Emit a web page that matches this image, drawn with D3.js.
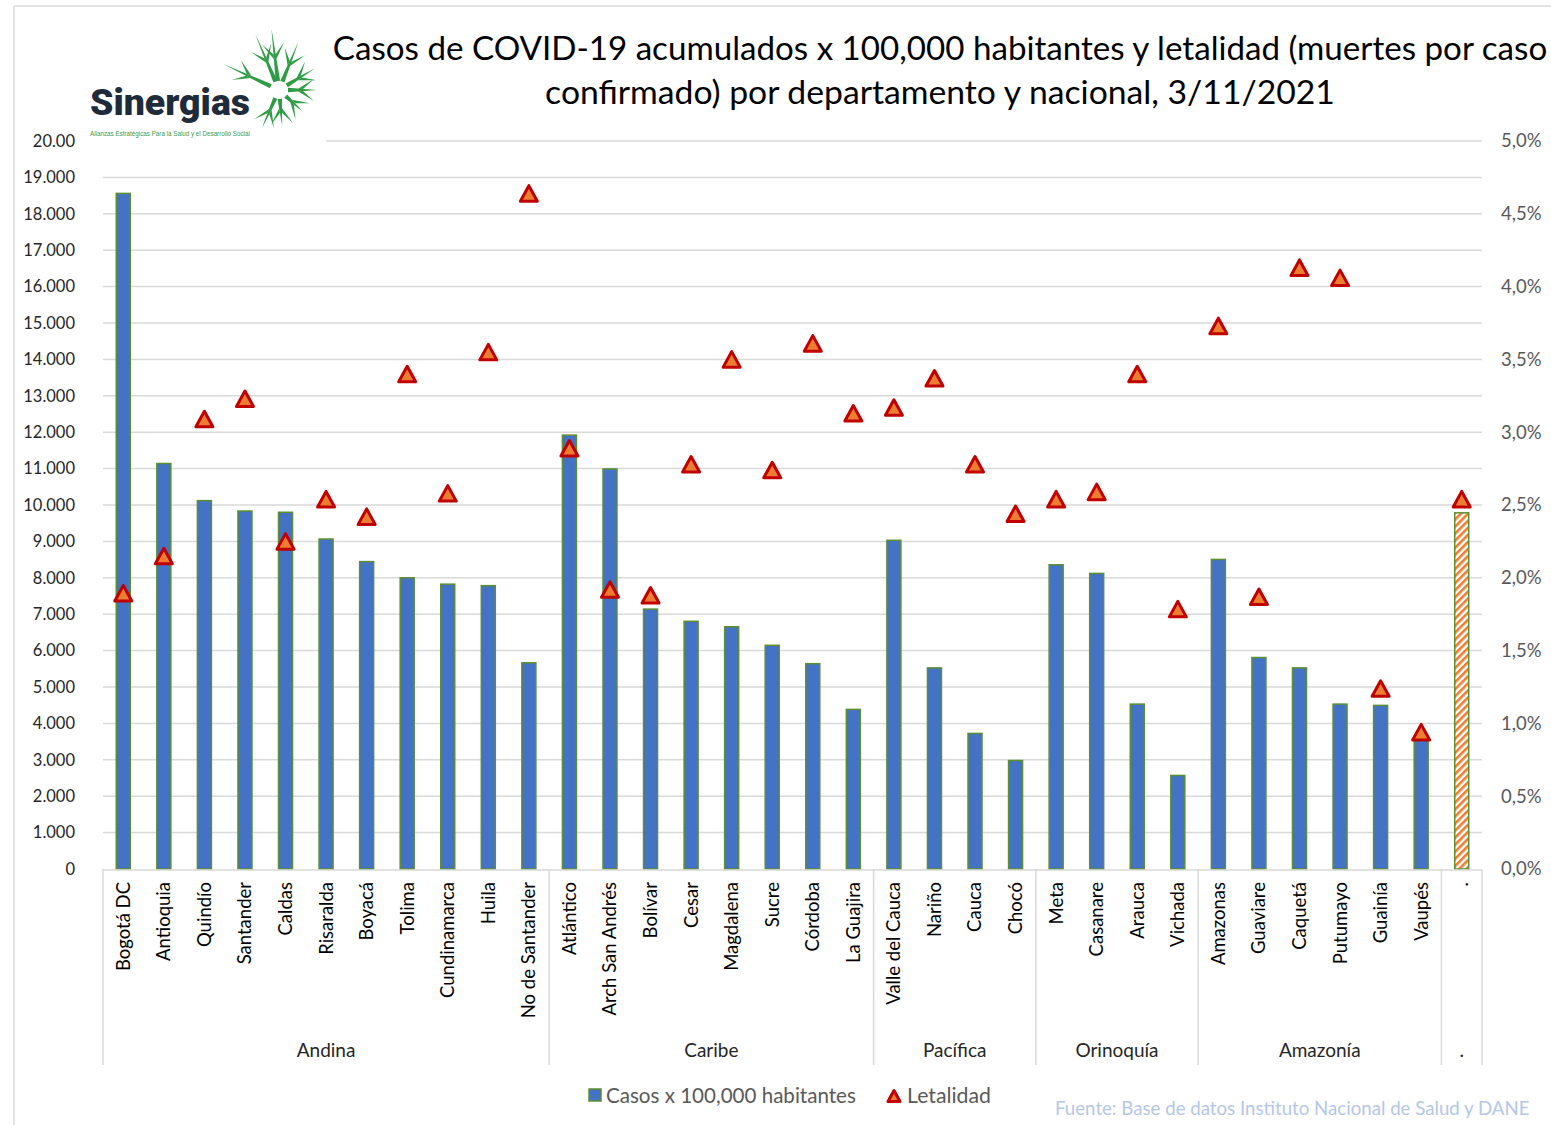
<!DOCTYPE html>
<html>
<head>
<meta charset="utf-8">
<script src="https://cdn.jsdelivr.net/npm/d3@7"></script>
<style>
  html, body { margin: 0; padding: 0; background: #fff; }
  svg { display: block; }
</style>
</head>
<body>
<svg id="chart" width="1551" height="1125"></svg>
<script>
// ---------------- DATA ----------------
const categories = [
  "Bogotá DC","Antioquia","Quindío","Santander","Caldas","Risaralda","Boyacá","Tolima","Cundinamarca","Huila","No de Santander",
  "Atlántico","Arch San Andrés","Bolívar","Cesar","Magdalena","Sucre","Córdoba","La Guajira",
  "Valle del Cauca","Nariño","Cauca","Chocó",
  "Meta","Casanare","Arauca","Vichada",
  "Amazonas","Guaviare","Caquetá","Putumayo","Guainía","Vaupés",
  "."
];
const regionNames = ["Andina","Caribe","Pacífica","Orinoquía","Amazonía","."];
const regionSizes = [11, 8, 4, 4, 6, 1];
const casos = [
  18560, 11140, 10120, 9835, 9800, 9065, 8445, 8000, 7825, 7785, 5665,
  11920, 10990, 7140, 6805, 6655, 6145, 5640, 4385,
  9030, 5525, 3725, 2980,
  8357, 8120, 4530, 2570,
  8505, 5810, 5525, 4530, 4495, 3650,
  9785
];
const letalidad = [
  0.01894, 0.0215, 0.0309, 0.0323, 0.0225, 0.0254, 0.0242, 0.0340, 0.0258, 0.0355, 0.0464,
  0.0289, 0.0192, 0.0188, 0.0278, 0.0350, 0.0274, 0.0361, 0.0313,
  0.0317, 0.0337, 0.0278, 0.0244,
  0.0254, 0.0259, 0.0340, 0.01785,
  0.0373, 0.0187, 0.0413, 0.0406, 0.0124, 0.0094,
  0.0254
];
const leftTickValues = [0,1000,2000,3000,4000,5000,6000,7000,8000,9000,10000,11000,12000,13000,14000,15000,16000,17000,18000,19000,20000];
const leftTickLabels = ["0","1.000","2.000","3.000","4.000","5.000","6.000","7.000","8.000","9.000","10.000","11.000","12.000","13.000","14.000","15.000","16.000","17.000","18.000","19.000","20.00"];
const rightTickValues = [0,0.005,0.01,0.015,0.02,0.025,0.03,0.035,0.04,0.045,0.05];
const rightTickLabels = ["0,0%","0,5%","1,0%","1,5%","2,0%","2,5%","3,0%","3,5%","4,0%","4,5%","5,0%"];
const titleLines = [
  "Casos de COVID-19 acumulados x 100,000 habitantes y letalidad (muertes por caso",
  "confirmado) por departamento y nacional, 3/11/2021"
];
const legendLabels = ["Casos x 100,000 habitantes", "Letalidad"];
const sourceText = "Fuente: Base de datos Instituto Nacional de Salud y DANE";

// ---------------- LAYOUT ----------------
const FONT = "Lato, 'Open Sans', sans-serif";
const plot = { left: 103, right: 1482, top: 141, bottom: 869 };
const svg = d3.select("#chart");

const x = d3.scaleBand().domain(categories).range([plot.left, plot.right]).paddingInner(0).paddingOuter(0);
const yL = d3.scaleLinear().domain([0, 20000]).range([plot.bottom, plot.top]);
const yR = d3.scaleLinear().domain([0, 0.05]).range([plot.bottom, plot.top]);
const barW = 14;

function fit(sel, target) {
  sel.each(function() {
    const w = this.getComputedTextLength();
    const fs = parseFloat(d3.select(this).attr("font-size"));
    if (w > 0) d3.select(this).attr("font-size", fs * target / w);
  });
}
// triangle marker centred on its bounding box (like spreadsheet markers)
function triPath(w, h) {
  return `M0,${-h / 2}L${w / 2},${h / 2}L${-w / 2},${h / 2}Z`;
}

// defs: hatch pattern
const defs = svg.append("defs");
const pat = defs.append("pattern").attr("id", "hatch").attr("patternUnits", "userSpaceOnUse")
  .attr("width", 5).attr("height", 5).attr("patternTransform", "rotate(45)");
pat.append("rect").attr("width", 5).attr("height", 5).attr("fill", "#ffffff");
pat.append("rect").attr("width", 2.6).attr("height", 5).attr("fill", "#ED7D31");

// outer frame lines
svg.append("line").attr("x1", 14).attr("x2", 1551).attr("y1", 6).attr("y2", 6).attr("stroke", "#d9d9d9").attr("stroke-width", 1.5);
svg.append("line").attr("x1", 14).attr("x2", 14).attr("y1", 6).attr("y2", 1125).attr("stroke", "#d9d9d9").attr("stroke-width", 1.5);

// gridlines
svg.append("g").selectAll("line").data(leftTickValues.filter(v => v > 0)).join("line")
  .attr("x1", d => d === 20000 ? 326 : plot.left).attr("x2", plot.right)
  .attr("y1", d => yL(d)).attr("y2", d => yL(d))
  .attr("stroke", "#d9d9d9").attr("stroke-width", 1.5);

// left axis labels
svg.append("g").selectAll("text").data(leftTickValues).join("text")
  .attr("x", 75).attr("y", d => yL(d)).attr("dy", "0.35em")
  .attr("text-anchor", "end").attr("font-family", FONT).attr("font-size", 16.5)
  .attr("fill", "#262626").text((d, i) => leftTickLabels[i]);

// right axis labels
svg.append("g").selectAll("text").data(rightTickValues).join("text")
  .attr("x", 1501).attr("y", d => yR(d)).attr("dy", "0.35em")
  .attr("text-anchor", "start").attr("font-family", FONT).attr("font-size", 18.5)
  .attr("fill", "#595959").text((d, i) => rightTickLabels[i]);

// bars
const barData = categories.map((c, i) => ({ c, v: casos[i], l: letalidad[i], nat: c === "." }));
svg.append("g").selectAll("rect").data(barData).join("rect")
  .attr("x", d => x(d.c) + x.bandwidth() / 2 - barW / 2)
  .attr("width", barW)
  .attr("y", d => yL(d.v))
  .attr("height", d => yL(0) - yL(d.v))
  .attr("fill", d => d.nat ? "url(#hatch)" : "#4472C4")
  .attr("stroke", "#5B8F32").attr("stroke-width", 1.5);

// category axis line + separators
const ax = svg.append("g");
ax.append("line").attr("x1", plot.left).attr("x2", plot.right).attr("y1", plot.bottom + 1).attr("y2", plot.bottom + 1)
  .attr("stroke", "#d9d9d9").attr("stroke-width", 1.5);
let acc = 0;
const bounds = [0];
regionSizes.forEach(s => { acc += s; bounds.push(acc); });
const boundX = i => i < categories.length ? x(categories[i]) : plot.right;
ax.selectAll("line.sep").data(bounds).join("line").attr("class", "sep")
  .attr("x1", d => boundX(d)).attr("x2", d => boundX(d))
  .attr("y1", plot.bottom).attr("y2", 1065)
  .attr("stroke", "#d9d9d9").attr("stroke-width", 1.5);

// category labels (rotated)
ax.selectAll("text.cat").data(categories).join("text").attr("class", "cat")
  .attr("transform", d => `translate(${x(d) + x.bandwidth() / 2},882) rotate(-90)`)
  .attr("dy", "0.35em").attr("text-anchor", "end")
  .attr("font-family", FONT).attr("font-size", 18.5).attr("fill", "#000")
  .text(d => d);

// region labels
ax.selectAll("text.reg").data(regionNames).join("text").attr("class", "reg")
  .attr("x", (d, i) => (boundX(bounds[i]) + boundX(bounds[i + 1])) / 2)
  .attr("y", 1050).attr("dy", "0.35em").attr("text-anchor", "middle")
  .attr("font-family", FONT).attr("font-size", 19).attr("fill", "#262626")
  .text(d => d);

// triangles (letalidad)
svg.append("g").selectAll("path").data(barData).join("path")
  .attr("d", triPath(17, 15.5))
  .attr("transform", d => `translate(${x(d.c) + x.bandwidth() / 2},${yR(d.l)})`)
  .attr("fill", "#ED7D31").attr("stroke", "#C00000").attr("stroke-width", 3).attr("stroke-linejoin", "round");

// logo background (covers top grid) + logo
const logo = svg.append("g");
logo.append("rect").attr("x", 84).attr("y", 22).attr("width", 240).attr("height", 124).attr("fill", "#fff");
const cx = 279, cy = 90;
const arms = [[-155, 62], [-113, 60], [-97, 62], [-68, 52], [-31, 42], [0, 38], [42, 32], [85, 36], [114, 42]];
arms.forEach(([a, L]) => {
  const r = a * Math.PI / 180;
  const ux = Math.cos(r), uy = Math.sin(r), px = -uy, py = ux;
  const r0 = 9;
  const p = d3.path();
  p.moveTo(cx + ux * r0 + px * 2.2, cy + uy * r0 + py * 2.2);
  p.lineTo(cx + ux * L, cy + uy * L);
  p.lineTo(cx + ux * r0 - px * 2.2, cy + uy * r0 - py * 2.2);
  p.closePath();
  logo.append("path").attr("d", p.toString()).attr("fill", "#2E9B45");
  const bx = cx + ux * (L * 0.5), by = cy + uy * (L * 0.5);
  [1, -1].forEach(sgn => {
    const q = d3.path();
    q.moveTo(bx + px * 1.2 * sgn, by + py * 1.2 * sgn);
    q.lineTo(bx + ux * 16 + px * 11 * sgn, by + uy * 16 + py * 11 * sgn);
    q.lineTo(bx + ux * 5 + px * 1 * sgn, by + uy * 5 + py * 1 * sgn);
    q.closePath();
    logo.append("path").attr("d", q.toString()).attr("fill", "#2E9B45");
  });
});
logo.append("text").attr("x", 90).attr("y", 115).attr("font-family", "Roboto, 'Open Sans', sans-serif")
  .attr("font-weight", 900).attr("font-size", 40).attr("fill", "#1E2B3B").text("Sinergias")
  .call(fit, 160);
logo.append("text").attr("x", 90).attr("y", 136).attr("font-family", "'Liberation Sans Narrow', 'Liberation Sans', sans-serif")
  .attr("font-size", 8).attr("fill", "#3A9A4A").text("Alianzas Estratégicas Para la Salud y el Desarrollo Social")
  .call(fit, 160);

// title
svg.append("g").selectAll("text").data(titleLines).join("text")
  .attr("x", 940).attr("y", (d, i) => 48 + i * 44).attr("dy", "0.35em")
  .attr("text-anchor", "middle").attr("font-family", FONT).attr("font-size", 29).attr("fill", "#000")
  .text(d => d)
  .each(function(d, i) { d3.select(this).call(fit, i === 0 ? 1215 : 790); });

// legend
const lg = svg.append("g");
lg.append("rect").attr("x", 589).attr("y", 1089).attr("width", 12).attr("height", 12)
  .attr("fill", "#4472C4").attr("stroke", "#5B8F32").attr("stroke-width", 1.5);
lg.append("text").attr("x", 606).attr("y", 1096).attr("dy", "0.35em").attr("font-family", FONT)
  .attr("font-size", 19).attr("fill", "#595959").text(legendLabels[0]).call(fit, 250);
lg.append("path").attr("d", triPath(12, 11))
  .attr("transform", "translate(894,1096)")
  .attr("fill", "#ED7D31").attr("stroke", "#C00000").attr("stroke-width", 3).attr("stroke-linejoin", "round");
lg.append("text").attr("x", 907).attr("y", 1096).attr("dy", "0.35em").attr("font-family", FONT)
  .attr("font-size", 19).attr("fill", "#595959").text(legendLabels[1]).call(fit, 84);

// source
svg.append("text").attr("x", 1055).attr("y", 1108).attr("dy", "0.35em").attr("font-family", FONT)
  .attr("font-size", 16.5).attr("fill", "#B4C7E7").text(sourceText).call(fit, 475);
</script>
</body>
</html>
